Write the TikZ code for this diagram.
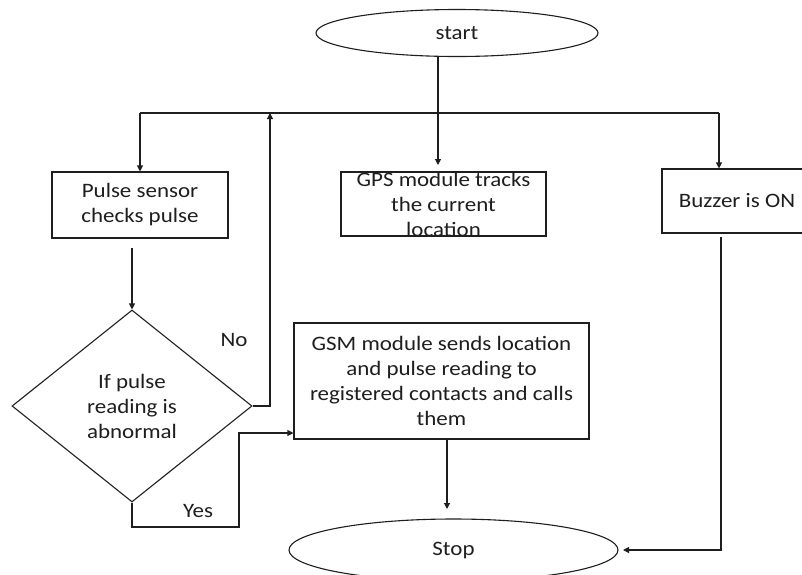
\documentclass[tikz,border=0pt]{standalone}
\usepackage{fontspec}
\setmainfont{Carlito}[FakeStretch=1.12]
\usetikzlibrary{shapes.geometric,arrows.meta}
\definecolor{ink}{RGB}{30,30,30}
\begin{document}
\begin{tikzpicture}[x=1pt,y=-1pt,
  every node/.style={font=\fontsize{20.5}{25}\selectfont, text=ink},
  flow/.style={draw=ink, line width=1.1pt, inner sep=0pt},
  box/.style={flow, rectangle, align=center},
  term/.style={flow, ellipse},
  decision/.style={flow, diamond, align=center},
  lbl/.style={inner sep=0pt},
  link/.style={draw=ink, line width=1.1pt},
  arr/.style={link, -{Triangle[length=6pt,width=6pt]}},
]
\useasboundingbox (0,0) rectangle (802,574);
\fill[white] (0,0) rectangle (802,574);
\clip (0,0) rectangle (802,574);

% terminals, process boxes and the decision
\node[term, minimum width=282pt, minimum height=47pt] (start) at (457,33) {start};
\node[box, minimum width=176pt, minimum height=66pt] (pulse) at (140,205) {Pulse sensor\\checks pulse};
\node[box, minimum width=205pt, minimum height=64pt] (gps) at (443.5,204) {};
\node[lbl, align=center] (gpstext) at (gps.center) {GPS module tracks\\the current\\location};
\node[box, minimum width=150pt, minimum height=64pt] (buz) at (737,201) {Buzzer is ON};
\node[decision, minimum width=240pt, minimum height=192pt] (cond) at (132,406) {If pulse\\reading is\\abnormal};
\node[box, minimum width=295pt, minimum height=116pt] (gsm) at (441.5,381) {GSM module sends location\\and pulse reading to\\registered contacts and calls\\them};
\node[term, minimum width=329pt, minimum height=62pt] (stop) at (453.5,550) {Stop};
\node[lbl] (no) at (234,340) {No};
\node[lbl] (yes) at (198,511) {Yes};

% junction points of the connectors
\coordinate (busL) at (140,113);
\coordinate (busR) at (719,113);
\coordinate (startOut) at (438,56);
\coordinate (gpsIn) at (438,165);
\coordinate (noUp) at (270,113);
\coordinate (yesBend) at (239,527);
\coordinate (stopIn) at (447,509);
\coordinate (buzOut) at (721,237);
\coordinate (stopRight) at (623,550);

% connectors
\draw[link] (busL) -- (busR);
\draw[arr] (startOut) -- (gpsIn);
\draw[arr] (busL) -- (pulse.north);
\draw[arr] (busR) -- (busR |- buz.north);
\draw[arr] ([xshift=-8pt,yshift=-9pt]pulse.south) -- (cond.north);
\draw[arr] (cond.east) -| (noUp);
\draw[arr] (cond.south) |- (yesBend) |- ([yshift=-52pt]gsm.west);
\draw[arr] ([xshift=5.5pt]gsm.south) -- (stopIn);
\draw[arr] (buzOut) |- (stopRight);
\end{tikzpicture}
\end{document}
